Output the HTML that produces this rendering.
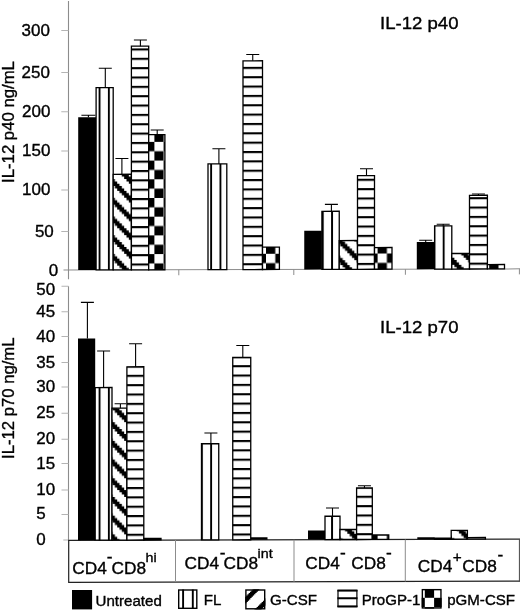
<!DOCTYPE html>
<html><head><meta charset="utf-8"><title>IL-12 chart</title>
<style>
html,body{margin:0;padding:0;background:#fff;}
svg{display:block;}
text{font-family:"Liberation Sans",Arial,Helvetica,sans-serif;fill:#000;stroke:#000;stroke-width:0.36px;}
#labels{opacity:0.999;}
</style></head><body>
<svg width="520" height="611" viewBox="0 0 520 611">
<defs>
<pattern id="vsT" patternUnits="userSpaceOnUse" x="5.600" y="11.200" width="9.3" height="18.7"><rect width="9.3" height="18.7" fill="#fff"/><rect x="0" y="0" width="1.9" height="18.7" fill="#000"/></pattern>
<pattern id="hsT" patternUnits="userSpaceOnUse" x="5.600" y="11.200" width="18.6" height="9.35"><rect width="18.6" height="9.35" fill="#fff"/><rect x="0" y="0" width="18.6" height="2.1" fill="#000"/></pattern>
<pattern id="ckT" patternUnits="userSpaceOnUse" x="5.600" y="11.200" width="18.6" height="18.7"><rect width="18.6" height="18.7" fill="#fff"/><rect x="9.3" y="0" width="9.3" height="9.35" fill="#000"/><rect x="0" y="9.35" width="9.3" height="9.35" fill="#000"/></pattern>
<pattern id="dgT" patternUnits="userSpaceOnUse" x="5.600" y="10.900" width="18.6" height="18.7"><rect width="18.6" height="18.7" fill="#fff"/><path d="M-4.65 -2.34L-4.65 0.00L-2.33 0.00L-2.33 2.34L0.00 2.34L0.00 4.67L2.33 4.67L2.33 7.01L4.65 7.01L4.65 9.35L6.98 9.35L6.98 11.69L9.30 11.69L9.30 14.02L11.62 14.02L11.62 16.36L13.95 16.36L13.95 18.70L16.28 18.70L16.28 21.04L9.30 21.04L9.30 18.70L6.98 18.70L6.98 16.36L4.65 16.36L4.65 14.02L2.33 14.02L2.33 11.69L0.00 11.69L0.00 9.35L-2.33 9.35L-2.33 7.01L-4.65 7.01L-4.65 4.67L-6.98 4.67L-6.98 2.34L-9.30 2.34L-9.30 0.00L-11.62 0.00L-11.62 -2.34Z" fill="#000"/><path d="M13.95 -2.34L13.95 0.00L16.28 0.00L16.28 2.34L18.60 2.34L18.60 4.67L20.93 4.67L20.93 7.01L23.25 7.01L23.25 9.35L25.58 9.35L25.58 11.69L27.90 11.69L27.90 14.02L30.23 14.02L30.23 16.36L32.55 16.36L32.55 18.70L34.88 18.70L34.88 21.04L27.90 21.04L27.90 18.70L25.58 18.70L25.58 16.36L23.25 16.36L23.25 14.02L20.93 14.02L20.93 11.69L18.60 11.69L18.60 9.35L16.28 9.35L16.28 7.01L13.95 7.01L13.95 4.67L11.62 4.67L11.62 2.34L9.30 2.34L9.30 0.00L6.98 0.00L6.98 -2.34Z" fill="#000"/><path d="M32.55 -2.34L32.55 0.00L34.88 0.00L34.88 2.34L37.20 2.34L37.20 4.67L39.53 4.67L39.53 7.01L41.85 7.01L41.85 9.35L44.18 9.35L44.18 11.69L46.50 11.69L46.50 14.02L48.83 14.02L48.83 16.36L51.15 16.36L51.15 18.70L53.48 18.70L53.48 21.04L46.50 21.04L46.50 18.70L44.18 18.70L44.18 16.36L41.85 16.36L41.85 14.02L39.53 14.02L39.53 11.69L37.20 11.69L37.20 9.35L34.88 9.35L34.88 7.01L32.55 7.01L32.55 4.67L30.23 4.67L30.23 2.34L27.90 2.34L27.90 0.00L25.58 0.00L25.58 -2.34Z" fill="#000"/><path d="M-23.25 -2.34L-23.25 0.00L-20.93 0.00L-20.93 2.34L-18.60 2.34L-18.60 4.67L-16.28 4.67L-16.28 7.01L-13.95 7.01L-13.95 9.35L-11.62 9.35L-11.62 11.69L-9.30 11.69L-9.30 14.02L-6.98 14.02L-6.98 16.36L-4.65 16.36L-4.65 18.70L-2.33 18.70L-2.33 21.04L-9.30 21.04L-9.30 18.70L-11.62 18.70L-11.62 16.36L-13.95 16.36L-13.95 14.02L-16.28 14.02L-16.28 11.69L-18.60 11.69L-18.60 9.35L-20.93 9.35L-20.93 7.01L-23.25 7.01L-23.25 4.67L-25.58 4.67L-25.58 2.34L-27.90 2.34L-27.90 0.00L-30.23 0.00L-30.23 -2.34Z" fill="#000"/></pattern>
<pattern id="vsB" patternUnits="userSpaceOnUse" x="5.600" y="10.300" width="9.3" height="18.7"><rect width="9.3" height="18.7" fill="#fff"/><rect x="0" y="0" width="1.9" height="18.7" fill="#000"/></pattern>
<pattern id="hsB" patternUnits="userSpaceOnUse" x="5.600" y="10.300" width="18.6" height="9.35"><rect width="18.6" height="9.35" fill="#fff"/><rect x="0" y="0" width="18.6" height="2.1" fill="#000"/></pattern>
<pattern id="ckB" patternUnits="userSpaceOnUse" x="5.600" y="10.300" width="18.6" height="18.7"><rect width="18.6" height="18.7" fill="#fff"/><rect x="9.3" y="0" width="9.3" height="9.35" fill="#000"/><rect x="0" y="9.35" width="9.3" height="9.35" fill="#000"/></pattern>
<pattern id="dgB" patternUnits="userSpaceOnUse" x="5.600" y="10.900" width="18.6" height="18.7"><rect width="18.6" height="18.7" fill="#fff"/><path d="M-4.65 -2.34L-4.65 0.00L-2.33 0.00L-2.33 2.34L0.00 2.34L0.00 4.67L2.33 4.67L2.33 7.01L4.65 7.01L4.65 9.35L6.98 9.35L6.98 11.69L9.30 11.69L9.30 14.02L11.62 14.02L11.62 16.36L13.95 16.36L13.95 18.70L16.28 18.70L16.28 21.04L9.30 21.04L9.30 18.70L6.98 18.70L6.98 16.36L4.65 16.36L4.65 14.02L2.33 14.02L2.33 11.69L0.00 11.69L0.00 9.35L-2.33 9.35L-2.33 7.01L-4.65 7.01L-4.65 4.67L-6.98 4.67L-6.98 2.34L-9.30 2.34L-9.30 0.00L-11.62 0.00L-11.62 -2.34Z" fill="#000"/><path d="M13.95 -2.34L13.95 0.00L16.28 0.00L16.28 2.34L18.60 2.34L18.60 4.67L20.93 4.67L20.93 7.01L23.25 7.01L23.25 9.35L25.58 9.35L25.58 11.69L27.90 11.69L27.90 14.02L30.23 14.02L30.23 16.36L32.55 16.36L32.55 18.70L34.88 18.70L34.88 21.04L27.90 21.04L27.90 18.70L25.58 18.70L25.58 16.36L23.25 16.36L23.25 14.02L20.93 14.02L20.93 11.69L18.60 11.69L18.60 9.35L16.28 9.35L16.28 7.01L13.95 7.01L13.95 4.67L11.62 4.67L11.62 2.34L9.30 2.34L9.30 0.00L6.98 0.00L6.98 -2.34Z" fill="#000"/><path d="M32.55 -2.34L32.55 0.00L34.88 0.00L34.88 2.34L37.20 2.34L37.20 4.67L39.53 4.67L39.53 7.01L41.85 7.01L41.85 9.35L44.18 9.35L44.18 11.69L46.50 11.69L46.50 14.02L48.83 14.02L48.83 16.36L51.15 16.36L51.15 18.70L53.48 18.70L53.48 21.04L46.50 21.04L46.50 18.70L44.18 18.70L44.18 16.36L41.85 16.36L41.85 14.02L39.53 14.02L39.53 11.69L37.20 11.69L37.20 9.35L34.88 9.35L34.88 7.01L32.55 7.01L32.55 4.67L30.23 4.67L30.23 2.34L27.90 2.34L27.90 0.00L25.58 0.00L25.58 -2.34Z" fill="#000"/><path d="M-23.25 -2.34L-23.25 0.00L-20.93 0.00L-20.93 2.34L-18.60 2.34L-18.60 4.67L-16.28 4.67L-16.28 7.01L-13.95 7.01L-13.95 9.35L-11.62 9.35L-11.62 11.69L-9.30 11.69L-9.30 14.02L-6.98 14.02L-6.98 16.36L-4.65 16.36L-4.65 18.70L-2.33 18.70L-2.33 21.04L-9.30 21.04L-9.30 18.70L-11.62 18.70L-11.62 16.36L-13.95 16.36L-13.95 14.02L-16.28 14.02L-16.28 11.69L-18.60 11.69L-18.60 9.35L-20.93 9.35L-20.93 7.01L-23.25 7.01L-23.25 4.67L-25.58 4.67L-25.58 2.34L-27.90 2.34L-27.90 0.00L-30.23 0.00L-30.23 -2.34Z" fill="#000"/></pattern>
</defs>
<rect width="520" height="611" fill="#fff"/>
<g id="axes" transform="matrix(1 -0.0025 0 1 0 0.1725)">
<path d="M68.5 1V279.3" stroke="#8c8c8c" stroke-width="1.1"/>
<path d="M63.5 270H520" stroke="#8c8c8c" stroke-width="1"/>
<path d="M61.3 231.40H68.5" stroke="#b4b4b4" stroke-width="1"/>
<path d="M61.3 190.10H68.5" stroke="#b4b4b4" stroke-width="1"/>
<path d="M61.3 151.10H68.5" stroke="#b4b4b4" stroke-width="1"/>
<path d="M61.3 111.80H68.5" stroke="#b4b4b4" stroke-width="1"/>
<path d="M61.3 72.40H68.5" stroke="#b4b4b4" stroke-width="1"/>
<path d="M61.3 30.60H68.5" stroke="#b4b4b4" stroke-width="1"/>
<path d="M178.8 270V275.5" stroke="#8c8c8c" stroke-width="1"/>
<path d="M293.8 270V275.5" stroke="#8c8c8c" stroke-width="1"/>
<path d="M405.4 270V275.5" stroke="#8c8c8c" stroke-width="1"/>
<path d="M519.4 270V275.5" stroke="#8c8c8c" stroke-width="1"/>
<path d="M68.5 286.2V540" stroke="#8c8c8c" stroke-width="1.1"/>
<path d="M63.3 540.10H68.5" stroke="#b4b4b4" stroke-width="1"/>
<path d="M61.5 514.40H68.5" stroke="#b4b4b4" stroke-width="1"/>
<path d="M61.5 490.10H68.5" stroke="#b4b4b4" stroke-width="1"/>
<path d="M61.5 463.50H68.5" stroke="#b4b4b4" stroke-width="1"/>
<path d="M61.5 439.20H68.5" stroke="#b4b4b4" stroke-width="1"/>
<path d="M61.5 413.20H68.5" stroke="#b4b4b4" stroke-width="1"/>
<path d="M61.5 386.90H68.5" stroke="#b4b4b4" stroke-width="1"/>
<path d="M61.5 362.50H68.5" stroke="#b4b4b4" stroke-width="1"/>
<path d="M61.5 336.40H68.5" stroke="#b4b4b4" stroke-width="1"/>
<path d="M61.5 311.70H68.5" stroke="#b4b4b4" stroke-width="1"/>
<path d="M61.5 286.20H68.5" stroke="#b4b4b4" stroke-width="1"/>
<path d="M68.2 540.3H520" stroke="#222" stroke-width="1.2"/>
<path d="M68.7 540.3V582.3H520" stroke="#222" stroke-width="1.2" fill="none"/>
<path d="M519.4 540.3V582.3" stroke="#444" stroke-width="1"/>
<path d="M175.5 540.3V582.3" stroke="#8c8c8c" stroke-width="1"/>
<path d="M294 540.3V582.3" stroke="#8c8c8c" stroke-width="1"/>
<path d="M405.3 540.3V582.3" stroke="#8c8c8c" stroke-width="1"/>
</g>
<g id="bars" transform="matrix(1 -0.0025 0 1 0 0.1725)">
<rect x="78.20" y="117.25" width="17.90" height="152.75" fill="#000"/>
<path d="M88.40 117.25V115.35M81.40 115.35H95.40" stroke="#000" stroke-width="1.1" fill="none"/>
<rect x="96.10" y="87.79" width="17.10" height="182.21" fill="url(#vsT)" stroke="#000" stroke-width="1.3"/>
<path d="M105.30 87.79V68.39M98.80 68.39H111.80" stroke="#000" stroke-width="1.1" fill="none"/>
<rect x="113.20" y="174.43" width="18.20" height="95.57" fill="url(#dgT)" stroke="#000" stroke-width="1.3"/>
<path d="M121.90 174.43V158.63M115.40 158.63H128.40" stroke="#000" stroke-width="1.1" fill="none"/>
<rect x="131.40" y="46.38" width="17.30" height="223.62" fill="url(#hsT)" stroke="#000" stroke-width="1.3"/>
<path d="M140.40 46.38V40.18M133.90 40.18H146.90" stroke="#000" stroke-width="1.1" fill="none"/>
<rect x="148.70" y="134.92" width="16.20" height="135.08" fill="url(#ckT)" stroke="#000" stroke-width="1.3"/>
<path d="M157.20 134.92V130.22M150.70 130.22H163.70" stroke="#000" stroke-width="1.1" fill="none"/>
<rect x="208.00" y="164.27" width="18.80" height="105.73" fill="url(#vsT)" stroke="#000" stroke-width="1.3"/>
<path d="M218.90 164.27V149.12M212.40 149.12H225.40" stroke="#000" stroke-width="1.1" fill="none"/>
<rect x="243.00" y="61.26" width="19.50" height="208.74" fill="url(#hsT)" stroke="#000" stroke-width="1.3"/>
<path d="M252.75 61.26V54.96M246.25 54.96H259.25" stroke="#000" stroke-width="1.1" fill="none"/>
<rect x="262.50" y="247.60" width="16.90" height="22.40" fill="url(#ckT)" stroke="#000" stroke-width="1.3"/>
<rect x="304.25" y="231.36" width="17.65" height="38.64" fill="#000"/>
<rect x="321.90" y="211.95" width="17.35" height="58.05" fill="url(#vsT)" stroke="#000" stroke-width="1.3"/>
<path d="M331.40 211.95V205.05M324.90 205.05H337.90" stroke="#000" stroke-width="1.1" fill="none"/>
<rect x="339.25" y="241.20" width="18.25" height="28.80" fill="url(#dgT)" stroke="#000" stroke-width="1.3"/>
<rect x="357.50" y="176.34" width="17.00" height="93.66" fill="url(#hsT)" stroke="#000" stroke-width="1.3"/>
<path d="M366.50 176.34V169.49M360.00 169.49H373.00" stroke="#000" stroke-width="1.1" fill="none"/>
<rect x="374.50" y="248.29" width="17.50" height="21.71" fill="url(#ckT)" stroke="#000" stroke-width="1.3"/>
<rect x="416.80" y="242.79" width="17.80" height="27.21" fill="#000"/>
<path d="M425.70 242.79V241.19M419.20 241.19H432.20" stroke="#000" stroke-width="1.1" fill="none"/>
<rect x="434.60" y="226.74" width="17.20" height="43.26" fill="url(#vsT)" stroke="#000" stroke-width="1.3"/>
<path d="M443.20 226.74V225.14M436.70 225.14H449.70" stroke="#000" stroke-width="1.1" fill="none"/>
<rect x="451.80" y="254.48" width="17.70" height="15.52" fill="url(#dgT)" stroke="#000" stroke-width="1.3"/>
<rect x="469.50" y="196.32" width="17.90" height="73.68" fill="url(#hsT)" stroke="#000" stroke-width="1.3"/>
<path d="M478.45 196.32V195.02M471.95 195.02H484.95" stroke="#000" stroke-width="1.1" fill="none"/>
<rect x="487.40" y="265.57" width="17.10" height="4.43" fill="url(#ckT)" stroke="#000" stroke-width="1.3"/>
<rect x="78.00" y="338.64" width="17.20" height="201.56" fill="#000"/>
<path d="M87.40 338.64V302.44M80.90 302.44H93.90" stroke="#000" stroke-width="1.1" fill="none"/>
<rect x="95.20" y="387.59" width="16.80" height="152.61" fill="url(#vsB)" stroke="#000" stroke-width="1.3"/>
<path d="M103.60 387.59V351.09M97.10 351.09H110.10" stroke="#000" stroke-width="1.1" fill="none"/>
<rect x="112.00" y="408.33" width="14.90" height="131.87" fill="url(#dgB)" stroke="#000" stroke-width="1.3"/>
<path d="M120.40 408.33V403.93M114.60 403.93H126.20" stroke="#000" stroke-width="1.1" fill="none"/>
<rect x="126.90" y="366.92" width="16.90" height="173.28" fill="url(#hsB)" stroke="#000" stroke-width="1.3"/>
<path d="M135.60 366.92V343.92M129.10 343.92H142.10" stroke="#000" stroke-width="1.1" fill="none"/>
<rect x="143.80" y="538.71" width="17.20" height="1.49" fill="url(#ckB)" stroke="#000" stroke-width="1.3"/>
<rect x="201.50" y="444.10" width="17.25" height="96.10" fill="url(#vsB)" stroke="#000" stroke-width="1.3"/>
<path d="M210.90 444.10V433.35M204.40 433.35H217.40" stroke="#000" stroke-width="1.1" fill="none"/>
<rect x="232.75" y="357.93" width="18.00" height="182.27" fill="url(#hsB)" stroke="#000" stroke-width="1.3"/>
<path d="M242.80 357.93V345.93M236.30 345.93H249.30" stroke="#000" stroke-width="1.1" fill="none"/>
<rect x="250.75" y="537.78" width="16.75" height="2.42" fill="#000"/>
<rect x="308.00" y="531.12" width="17.00" height="9.08" fill="#000"/>
<rect x="325.00" y="516.91" width="15.00" height="23.29" fill="url(#vsB)" stroke="#000" stroke-width="1.3"/>
<path d="M332.50 516.91V508.66M326.00 508.66H339.00" stroke="#000" stroke-width="1.1" fill="none"/>
<rect x="340.00" y="530.20" width="16.60" height="10.00" fill="url(#dgB)" stroke="#000" stroke-width="1.3"/>
<rect x="356.60" y="488.74" width="15.70" height="51.46" fill="url(#hsB)" stroke="#000" stroke-width="1.3"/>
<path d="M364.45 488.74V486.49M357.95 486.49H370.95" stroke="#000" stroke-width="1.1" fill="none"/>
<rect x="372.30" y="535.78" width="16.45" height="4.42" fill="url(#ckB)" stroke="#000" stroke-width="1.3"/>
<rect x="417.30" y="538.19" width="17.20" height="2.01" fill="#000"/>
<rect x="434.50" y="539.13" width="16.70" height="1.07" fill="url(#vsB)" stroke="#000" stroke-width="1.3"/>
<rect x="451.20" y="531.38" width="16.20" height="8.82" fill="url(#dgB)" stroke="#000" stroke-width="1.3"/>
<rect x="467.40" y="538.52" width="18.00" height="1.68" fill="url(#hsB)" stroke="#000" stroke-width="1.3"/>
</g>
<g id="legend">
<rect x="72" y="590" width="20.1" height="19.4" fill="#000"/>
<g stroke="#000" fill="none">
<rect x="178.7" y="590" width="18.1" height="18.3" stroke-width="1.4" fill="#fff"/>
<path d="M183.1 589.4V609M192.8 589.4V609" stroke-width="1.9"/>
<clipPath id="cg"><rect x="245.2" y="589.3" width="20.20" height="20.20"/></clipPath>
<g clip-path="url(#cg)" stroke="none" fill="#000"><path d="M260.43 588.04L260.43 589.30L259.17 589.30L259.17 590.56L257.91 590.56L257.91 591.82L256.65 591.82L256.65 593.08L255.39 593.08L255.39 594.34L254.13 594.34L254.13 595.60L252.87 595.60L252.87 596.86L251.61 596.86L251.61 598.12L250.35 598.12L250.35 599.38L249.09 599.38L249.09 600.64L247.83 600.64L247.83 601.90L246.57 601.90L246.57 603.16L245.31 603.16L245.31 604.42L244.05 604.42L244.05 605.68L242.79 605.68L242.79 606.94L241.53 606.94L241.53 608.20L240.27 608.20L240.27 609.46L239.01 609.46L239.01 610.72L237.75 610.72L237.75 611.98L231.05 611.98L231.05 610.72L232.31 610.72L232.31 609.46L233.57 609.46L233.57 608.20L234.83 608.20L234.83 606.94L236.09 606.94L236.09 605.68L237.35 605.68L237.35 604.42L238.61 604.42L238.61 603.16L239.87 603.16L239.87 601.90L241.13 601.90L241.13 600.64L242.39 600.64L242.39 599.38L243.65 599.38L243.65 598.12L244.91 598.12L244.91 596.86L246.17 596.86L246.17 595.60L247.43 595.60L247.43 594.34L248.69 594.34L248.69 593.08L249.95 593.08L249.95 591.82L251.21 591.82L251.21 590.56L252.47 590.56L252.47 589.30L253.73 589.30L253.73 588.04Z"/><path d="M282.23 588.04L282.23 589.30L280.97 589.30L280.97 590.56L279.71 590.56L279.71 591.82L278.45 591.82L278.45 593.08L277.19 593.08L277.19 594.34L275.93 594.34L275.93 595.60L274.67 595.60L274.67 596.86L273.41 596.86L273.41 598.12L272.15 598.12L272.15 599.38L270.89 599.38L270.89 600.64L269.63 600.64L269.63 601.90L268.37 601.90L268.37 603.16L267.11 603.16L267.11 604.42L265.85 604.42L265.85 605.68L264.59 605.68L264.59 606.94L263.33 606.94L263.33 608.20L262.07 608.20L262.07 609.46L260.81 609.46L260.81 610.72L259.55 610.72L259.55 611.98L252.85 611.98L252.85 610.72L254.11 610.72L254.11 609.46L255.37 609.46L255.37 608.20L256.63 608.20L256.63 606.94L257.89 606.94L257.89 605.68L259.15 605.68L259.15 604.42L260.41 604.42L260.41 603.16L261.67 603.16L261.67 601.90L262.93 601.90L262.93 600.64L264.19 600.64L264.19 599.38L265.45 599.38L265.45 598.12L266.71 598.12L266.71 596.86L267.97 596.86L267.97 595.60L269.23 595.60L269.23 594.34L270.49 594.34L270.49 593.08L271.75 593.08L271.75 591.82L273.01 591.82L273.01 590.56L274.27 590.56L274.27 589.30L275.53 589.30L275.53 588.04Z"/></g>
<rect x="245.89999999999998" y="590.0" width="18.80" height="18.80" stroke-width="1.4"/>
<rect x="338" y="590.6" width="18.9" height="15.8" stroke-width="1.2" fill="#fff"/>
<path d="M337.4 590.6H357.5M337.4 598.3H357.5M337.4 606.4H357.5" stroke-width="2"/>
</g>
<g>
<rect x="421.7" y="589" width="19.9" height="19.6" fill="#fff"/>
<rect x="424.8" y="589" width="9.3" height="8.8" fill="#000"/>
<rect x="421.7" y="597.8" width="3.1" height="9.4" fill="#000"/>
<rect x="434.1" y="597.8" width="7.5" height="9.4" fill="#000"/>
<rect x="424.8" y="607.2" width="9.3" height="1.4" fill="#000"/>
<rect x="422.35" y="589.65" width="18.6" height="18.3" fill="none" stroke="#000" stroke-width="1.4"/>
</g>
</g>
<g id="labels">
<text transform="translate(58.1 275.8) scale(1.055 1)" font-size="16.1" text-anchor="end">0</text>
<text transform="translate(53.8 236.5) scale(1.055 1)" font-size="16.1" text-anchor="end">50</text>
<text transform="translate(50.4 194.8) scale(1.055 1)" font-size="16.1" text-anchor="end">100</text>
<text transform="translate(50.4 155.6) scale(1.055 1)" font-size="16.1" text-anchor="end">150</text>
<text transform="translate(50.4 116.5) scale(1.055 1)" font-size="16.1" text-anchor="end">200</text>
<text transform="translate(49.9 77.5) scale(1.055 1)" font-size="16.1" text-anchor="end">250</text>
<text transform="translate(49.9 35.9) scale(1.055 1)" font-size="16.1" text-anchor="end">300</text>
<text transform="translate(36.3 545.3) scale(1.055 1)" font-size="16.1" text-anchor="start">0</text>
<text transform="translate(36.3 519.0) scale(1.055 1)" font-size="16.1" text-anchor="start">5</text>
<text transform="translate(36.3 494.8) scale(1.055 1)" font-size="16.1" text-anchor="start">10</text>
<text transform="translate(36.3 468.6) scale(1.055 1)" font-size="16.1" text-anchor="start">15</text>
<text transform="translate(36.3 443.7) scale(1.055 1)" font-size="16.1" text-anchor="start">20</text>
<text transform="translate(36.3 417.9) scale(1.055 1)" font-size="16.1" text-anchor="start">25</text>
<text transform="translate(36.3 391.9) scale(1.055 1)" font-size="16.1" text-anchor="start">30</text>
<text transform="translate(36.3 367.6) scale(1.055 1)" font-size="16.1" text-anchor="start">35</text>
<text transform="translate(36.3 341.6) scale(1.055 1)" font-size="16.1" text-anchor="start">40</text>
<text transform="translate(36.3 317.3) scale(1.055 1)" font-size="16.1" text-anchor="start">45</text>
<text transform="translate(36.3 295.4) scale(1.055 1)" font-size="16.1" text-anchor="start">50</text>
<text transform="translate(380 28.9) scale(1.1 1)" font-size="16.9" text-anchor="start">IL-12 p40</text>
<text transform="translate(380 332.6) scale(1.1 1)" font-size="16.9" text-anchor="start">IL-12 p70</text>
<text transform="translate(13.8 182.9) rotate(-90) scale(1.04 1)" font-size="16.1" text-anchor="start">IL-12 p40 ng/mL</text>
<text transform="translate(13.8 458.9) rotate(-90) scale(1.036 1)" font-size="16.1" text-anchor="start">IL-12 p70 ng/mL</text>
<text transform="translate(72.2 573.5) scale(1.06 1)" font-size="16.3" text-anchor="start">CD4</text>
<text transform="translate(106.8 561.8) scale(1.06 1)" font-size="16.3" text-anchor="start">-</text>
<text transform="translate(111.60000000000001 573.5) scale(1.06 1)" font-size="16.3" text-anchor="start">CD8</text>
<text transform="translate(145.6 562.2) scale(1.06 1)" font-size="13.5" text-anchor="start">hi</text>
<text transform="translate(184.5 568.6) scale(1.06 1)" font-size="16.3" text-anchor="start">CD4</text>
<text transform="translate(219.7 557.95) scale(1.06 1)" font-size="16.3" text-anchor="start">-</text>
<text transform="translate(223.5 568.6) scale(1.06 1)" font-size="16.3" text-anchor="start">CD8</text>
<text transform="translate(257.5 558.0) scale(1.06 1)" font-size="13.5" text-anchor="start">int</text>
<text transform="translate(305.2 568.6) scale(1.06 1)" font-size="16.3" text-anchor="start">CD4</text>
<text transform="translate(340.0 557.5) scale(1.06 1)" font-size="16.3" text-anchor="start">-</text>
<text transform="translate(351.3 568.6) scale(1.06 1)" font-size="16.3" text-anchor="start">CD8</text>
<text transform="translate(385.9 557.5) scale(1.06 1)" font-size="16.3" text-anchor="start">-</text>
<text transform="translate(417.8 572.2) scale(1.06 1)" font-size="16.3" text-anchor="start">CD4</text>
<text transform="translate(452.7 561.6) scale(1.06 1)" font-size="14.5" text-anchor="start">+</text>
<text transform="translate(462.2 572.2) scale(1.06 1)" font-size="16.3" text-anchor="start">CD8</text>
<text transform="translate(497.4 560.1) scale(1.06 1)" font-size="16.3" text-anchor="start">-</text>
<text transform="translate(95.6 605.8) scale(1.055 1)" font-size="14.3" text-anchor="start">Untreated</text>
<text transform="translate(203.8 605.2) scale(1.055 1)" font-size="14.3" text-anchor="start">FL</text>
<text transform="translate(270.0 605.1) scale(1.055 1)" font-size="14.3" text-anchor="start">G-CSF</text>
<text transform="translate(361.7 605.2) scale(1.055 1)" font-size="14.3" text-anchor="start">ProGP-1</text>
<text transform="translate(447.2 605.2) scale(1.055 1)" font-size="14.3" text-anchor="start">pGM-CSF</text>
</g>
</svg>
</body></html>
